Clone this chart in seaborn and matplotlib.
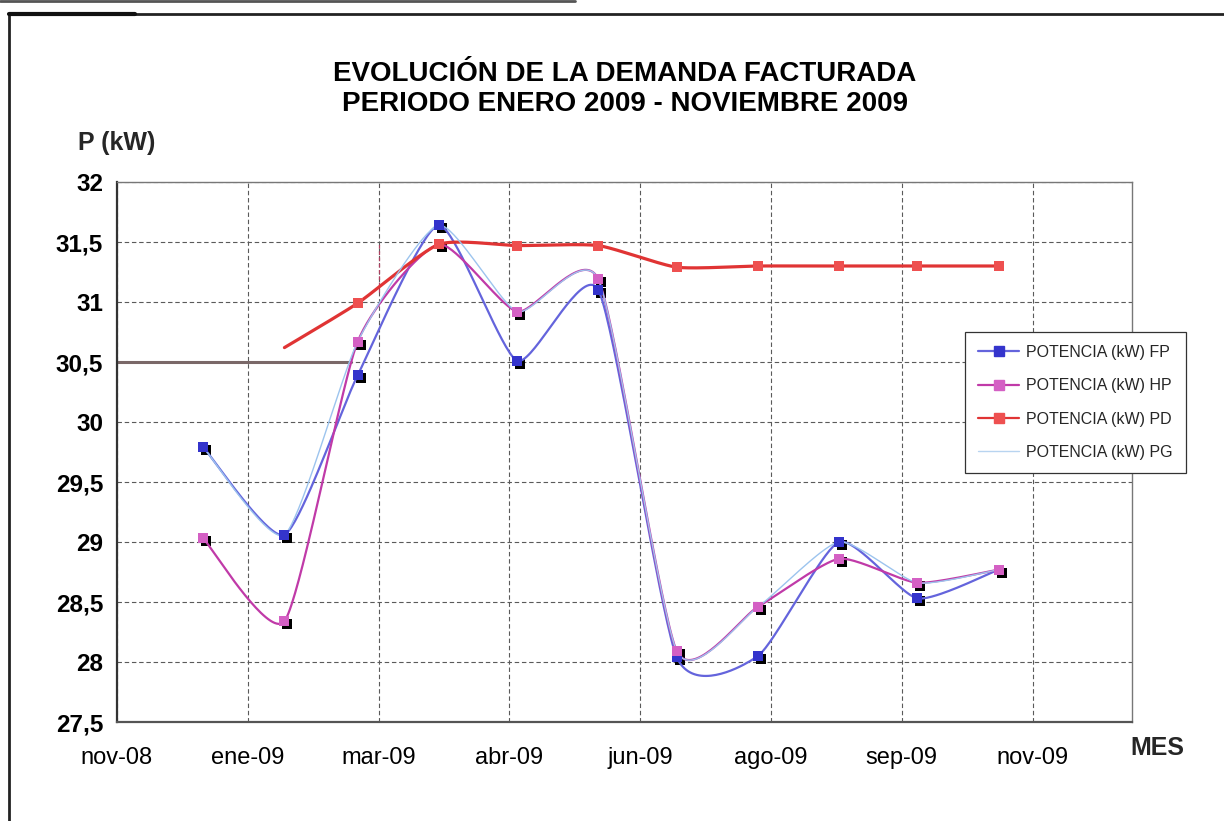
import numpy as np
import pandas as pd
import matplotlib
matplotlib.use("Agg")
import matplotlib.pyplot as plt
import matplotlib.dates as mdates
import matplotlib.transforms as mtransforms
from matplotlib.lines import Line2D
from matplotlib.ticker import FuncFormatter, MultipleLocator, FixedLocator
import seaborn as sns

# --- data -----------------------------------------------------------------
fechas = pd.date_range("2009-01-01", periods=11, freq="MS")
potencia_fp = [29.79, 29.06, 30.39, 31.64, 30.51, 31.10, 28.04, 28.05, 29.00, 28.53, 28.77]
potencia_hp = [29.03, 28.34, 30.67, 31.48, 30.92, 31.19, 28.09, 28.46, 28.86, 28.66, 28.77]
potencia_pd = [np.nan, 30.62, 30.99, 31.48, 31.47, 31.47, 31.29, 31.30, 31.30, 31.30, 31.30]
potencia_pg = [29.79, 29.06, 30.67, 31.64, 30.92, 31.19, 28.09, 28.46, 29.00, 28.66, 28.77]
etiquetas = ["POTENCIA (kW) FP", "POTENCIA (kW) HP", "POTENCIA (kW) PD", "POTENCIA (kW) PG"]
meses_es = ["ene", "feb", "mar", "abr", "may", "jun", "jul", "ago", "sep", "oct", "nov", "dic"]

# --- style ----------------------------------------------------------------
sns.set_theme(style="white")
plt.rcParams["font.family"] = ["Liberation Sans", "DejaVu Sans"]

W, H = 1224, 821
fig = plt.figure(figsize=(W / 100, H / 100), dpi=100)
fig.patch.set_facecolor("white")
ax = fig.add_axes([117 / W, 1 - 722 / H, (1132 - 117) / W, (722 - 182) / H])
ax.set_facecolor("white")


def curva_suave(x, y, k=0.1, n=40):
    """Bezier smoothing through the points (Catmull-Rom style control points)."""
    x = np.asarray(x, float)
    y = np.asarray(y, float)
    ok = ~np.isnan(y)
    x, y = x[ok], y[ok]
    P = np.column_stack([x, y])
    out = []
    m = len(P)
    t = np.linspace(0, 1, n)[:, None]
    for i in range(m - 1):
        p0 = P[i - 1] if i > 0 else P[i]
        p1, p2 = P[i], P[i + 1]
        p3 = P[i + 2] if i + 2 < m else P[i + 1]
        b1 = p1 + k * (p2 - p0)
        b2 = p2 - k * (p3 - p1)
        seg = ((1 - t) ** 3) * p1 + 3 * ((1 - t) ** 2) * t * b1 + 3 * (1 - t) * t ** 2 * b2 + t ** 3 * p2
        out.append(seg if i == 0 else seg[1:])
    c = np.vstack(out)
    return pd.DataFrame({"x": c[:, 0], "y": c[:, 1]})


xnum = mdates.date2num(fechas)

series = [
    (potencia_fp, "#6464dc", 1.6),
    (potencia_hp, "#c03aa8", 1.6),
    (potencia_pd, "#e03434", 2.3),
]

# shadow squares behind the FP and HP markers
sombra = mtransforms.offset_copy(ax.transData, fig=fig, x=3, y=-3, units="dots")
for vals in (potencia_fp, potencia_hp):
    sns.scatterplot(x=xnum, y=vals, marker="s", s=48, color="black", linewidth=0,
                    ax=ax, transform=sombra, zorder=3, legend=False)

for vals, lc, lw in series:
    curva = curva_suave(xnum, vals)
    sns.lineplot(data=curva, x="x", y="y", sort=False, estimator=None, color=lc,
                 linewidth=lw, ax=ax, zorder=4, legend=False)

# light generation curve on top
curva_pg = curva_suave(xnum, potencia_pg)
sns.lineplot(data=curva_pg, x="x", y="y", sort=False, estimator=None, color="#9cc4ee",
             linewidth=1.0, ax=ax, zorder=5, legend=False)

# markers
sns.scatterplot(x=xnum, y=potencia_fp, marker="s", s=42, color="#3434cc", linewidth=0, ax=ax, zorder=6, legend=False)
sns.scatterplot(x=xnum, y=potencia_hp, marker="s", s=42, color="#d460c4", linewidth=0, ax=ax, zorder=6, legend=False)
sns.scatterplot(x=xnum[2:], y=potencia_pd[2:], marker="s", s=42, color="#ee5050", linewidth=0, ax=ax, zorder=6, legend=False)

# --- axes -----------------------------------------------------------------
x0 = mdates.date2num(pd.Timestamp("2008-11-29"))
x1 = mdates.date2num(pd.Timestamp("2009-12-22"))
ticks_x = mdates.date2num(pd.date_range("2008-11-29", periods=8, freq="50D"))
ax.set_xlim(x0, x1)
ax.set_ylim(27.5, 32)
ax.xaxis.set_major_locator(FixedLocator(ticks_x))
ax.yaxis.set_major_locator(MultipleLocator(0.5))


def fmt_mes(v, pos):
    d = mdates.num2date(v)
    return f"{meses_es[d.month - 1]}-{d.year % 100:02d}"


def fmt_val(v, pos):
    s = f"{v:.1f}".rstrip("0").rstrip(".")
    return s.replace(".", ",")


ax.xaxis.set_major_formatter(FuncFormatter(fmt_mes))
ax.yaxis.set_major_formatter(FuncFormatter(fmt_val))
ax.tick_params(axis="both", direction="inout", length=8, width=1, color="#555555")
ax.tick_params(axis="x", labelsize=17, pad=14, labelcolor="black")
ax.tick_params(axis="y", labelsize=17.5, pad=6, labelcolor="black")
for lab in ax.get_yticklabels():
    lab.set_fontweight("bold")
ax.set_xlabel("")
ax.set_ylabel("")

ax.grid(True, which="major", linestyle=(0, (4, 2.5)), color="#5a5a5a", linewidth=0.8)
ax.set_axisbelow(True)
for side, sp in ax.spines.items():
    sp.set_visible(True)
    sp.set_color("#777777")
    sp.set_linewidth(1.0)
ax.spines["left"].set_color("#333333")
ax.spines["left"].set_linewidth(1.6)
ax.spines["bottom"].set_color("#555555")
ax.spines["bottom"].set_linewidth(1.6)

# reference marks on the plot
ax.hlines(30.5, x0, mdates.date2num(pd.Timestamp("2009-02-27")), color="#7a6868", linewidth=2.2, zorder=2)
ax.vlines(ticks_x[2], 31.08, 31.5, color="#b04060", linewidth=0.9, linestyles=(0, (3, 2)), zorder=2)

# --- texts ----------------------------------------------------------------
fig.text(625 / W, 1 - 74 / H, "EVOLUCIÓN DE LA DEMANDA FACTURADA", ha="center", va="center",
         fontsize=20, fontweight="bold", color="black")
fig.text(625 / W, 1 - 104 / H, "PERIODO ENERO 2009 - NOVIEMBRE 2009", ha="center", va="center",
         fontsize=20, fontweight="bold", color="black")
fig.text(78 / W, 1 - 143 / H, "P (kW)", ha="left", va="center", fontsize=18, fontweight="bold")
fig.text(1157 / W, 1 - 748 / H, "MES", ha="center", va="center", fontsize=18, fontweight="bold")

# legend
handles = [
    Line2D([], [], color="#6464dc", lw=1.6, marker="s", markersize=7, markerfacecolor="#3434cc", markeredgecolor="#3434cc"),
    Line2D([], [], color="#c03aa8", lw=1.6, marker="s", markersize=7, markerfacecolor="#d460c4", markeredgecolor="#d460c4"),
    Line2D([], [], color="#e03434", lw=1.6, marker="s", markersize=7, markerfacecolor="#ee5050", markeredgecolor="#ee5050"),
    Line2D([], [], color="#b8d4f0", lw=1.0),
]
leg = fig.legend(handles, etiquetas, loc="upper left", bbox_to_anchor=(965 / W, 1 - 332 / H),
                 fontsize=11.5, frameon=True, fancybox=False, framealpha=1, edgecolor="#333333",
                 handlelength=2.6, labelspacing=1.15, borderpad=0.8, handletextpad=0.45,
                 borderaxespad=0)
leg.get_frame().set_linewidth(0.9)

# page frame lines
fig.add_artist(Line2D([9 / W, 9 / W], [0, 1 - 14 / H], transform=fig.transFigure, color="#222222", lw=2))
fig.add_artist(Line2D([9 / W, 1], [1 - 14 / H, 1 - 14 / H], transform=fig.transFigure, color="#222222", lw=2))
fig.add_artist(Line2D([9 / W, 135 / W], [1 - 14 / H, 1 - 14 / H], transform=fig.transFigure, color="#111111", lw=3))
fig.add_artist(Line2D([0, 575 / W], [1 - 1.5 / H, 1 - 1.5 / H], transform=fig.transFigure, color="#555555", lw=2))

fig.savefig("out.png", dpi=100, facecolor="white")
